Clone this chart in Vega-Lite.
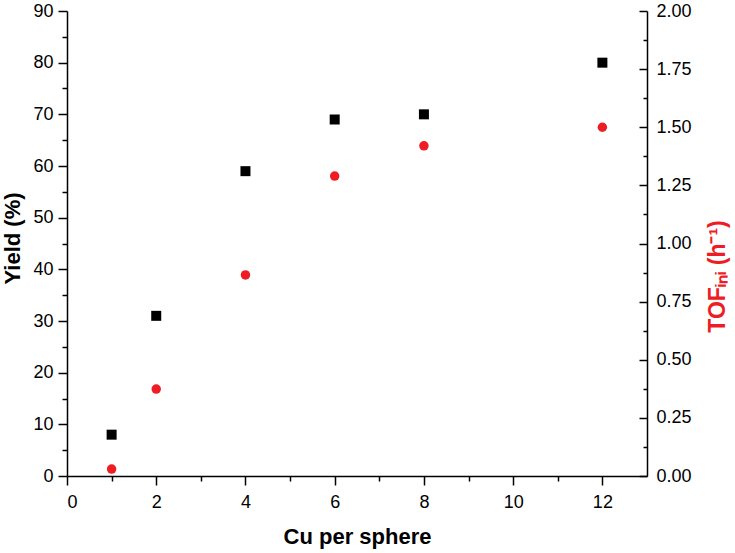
{
  "$schema": "https://vega.github.io/schema/vega-lite/v6.json",
  "width": 580,
  "height": 465,
  "autosize": {"type": "none"},
  "padding": {"left": 67, "top": 11, "right": 88, "bottom": 77},
  "background": "white",
  "config": {
    "view": {"stroke": null},
    "font": "Liberation Sans",
    "axis": {
      "grid": false,
      "domainColor": "black",
      "domainWidth": 1.5,
      "tickColor": "black",
      "tickWidth": 1.5,
      "labelFont": "Liberation Sans",
      "labelFontSize": 18,
      "labelColor": "black",
      "titleFont": "Liberation Sans",
      "titleFontSize": 22,
      "titleFontWeight": "bold",
      "titleColor": "black"
    }
  },
  "data": {
    "values": [
      {"cu": 1, "yield": 8, "tof": 0.03},
      {"cu": 2, "yield": 31, "tof": 0.374},
      {"cu": 4, "yield": 59, "tof": 0.865},
      {"cu": 6, "yield": 69, "tof": 1.29},
      {"cu": 8, "yield": 70, "tof": 1.42},
      {"cu": 12, "yield": 80, "tof": 1.5}
    ]
  },
  "encoding": {
    "x": {
      "field": "cu",
      "type": "quantitative",
      "scale": {"domain": [0, 13], "nice": false, "zero": false},
      "axis": {
        "title": "Cu per sphere",
        "values": [0, 1, 2, 3, 4, 5, 6, 7, 8, 9, 10, 11, 12],
        "labelExpr": "datum.value % 2 == 0 ? datum.label : ''",
        "tickSize": {"condition": {"test": "datum.value % 2 == 0", "value": 9}, "value": 5},
        "labelPadding": 8,
        "titleY": 67,
        "titleBaseline": "alphabetic"
      }
    }
  },
  "layer": [
    {
      "mark": {"type": "point", "shape": "square", "filled": true, "color": "black", "size": 100, "opacity": 1},
      "encoding": {
        "y": {
          "field": "yield",
          "type": "quantitative",
          "scale": {"domain": [0, 90], "nice": false},
          "axis": {
            "orient": "left",
            "title": "Yield (%)",
            "values": [0, 5, 10, 15, 20, 25, 30, 35, 40, 45, 50, 55, 60, 65, 70, 75, 80, 85, 90],
            "labelExpr": "datum.value % 10 == 0 ? datum.label : ''",
            "tickSize": {"condition": {"test": "datum.value % 10 == 0", "value": 9}, "value": 5},
            "labelPadding": 5,
            "titleAngle": 270,
            "titleBaseline": "middle",
            "titleX": -55,
            "titleY": 227
          }
        }
      }
    },
    {
      "mark": {"type": "point", "shape": "circle", "filled": true, "color": "#ee1c25", "size": 90, "opacity": 1},
      "encoding": {
        "y": {
          "field": "tof",
          "type": "quantitative",
          "scale": {"domain": [0, 2], "nice": false},
          "axis": {
            "orient": "right",
            "title": "TOFᵢₙᵢ (h⁻¹)",
            "titleColor": "#ee1c25",
            "titleFontSize": 23,
            "titleAngle": 270,
            "titleBaseline": "middle",
            "titleX": 70,
            "titleY": 265,
            "values": [0, 0.125, 0.25, 0.375, 0.5, 0.625, 0.75, 0.875, 1, 1.125, 1.25, 1.375, 1.5, 1.625, 1.75, 1.875, 2],
            "labelExpr": "abs(datum.value * 4 - round(datum.value * 4)) < 0.001 ? format(datum.value, '.2f') : ''",
            "tickSize": {"condition": {"test": "abs(datum.value * 4 - round(datum.value * 4)) < 0.001", "value": -8}, "value": -4},
            "labelPadding": 17
          }
        }
      }
    }
  ],
  "resolve": {"scale": {"y": "independent"}}
}
